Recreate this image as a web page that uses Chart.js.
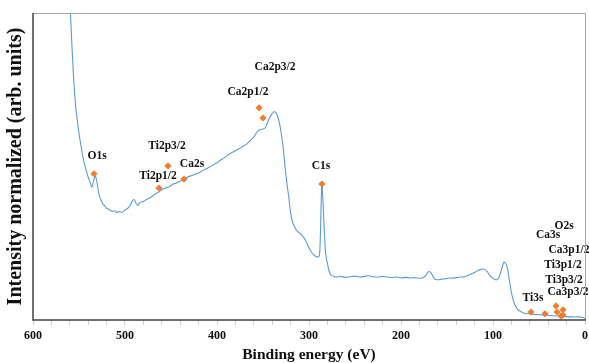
<!DOCTYPE html>
<html>
<head>
<meta charset="utf-8">
<script src="https://cdn.jsdelivr.net/npm/chart.js@4.4.1/dist/chart.umd.min.js"></script>
<style>
  html, body { margin: 0; padding: 0; background: #fff; }
  #wrap { width: 589px; height: 363px; position: relative; }
</style>
</head>
<body>
<div id="wrap"><canvas id="xps-chart"></canvas></div>
<script>
// survey spectrum (eV, arb. units 0-100)
const energies = [560, 557, 554, 551, 548, 545, 542, 540, 538, 536, 534, 532, 530, 528, 526, 524, 522, 520,
    517, 514, 511, 509, 506, 503, 500, 497, 494, 492, 490, 488, 486, 484, 480, 476, 472, 468, 464, 460,
    456, 452, 448, 444, 440, 436, 432, 428, 424, 420, 416, 412, 408, 404, 400, 396, 392, 388, 384, 380,
    376, 372, 368, 364, 360, 357, 354, 351, 348, 346, 344, 341, 338, 336, 334, 332, 330, 328, 326, 324,
    322, 320, 318, 316, 313, 310, 306, 303, 300, 297, 294, 291, 289, 288, 287, 286, 285, 284, 283, 282,
    280, 278, 276, 273, 270, 265, 260, 255, 250, 245, 240, 235, 230, 225, 220, 215, 210, 205, 200, 195,
    190, 185, 180, 176, 173, 171, 169, 167, 165, 163, 160, 156, 152, 148, 144, 140, 136, 132, 128, 124,
    120, 116, 113, 110, 107, 104, 101, 98, 96, 94, 92, 90, 88, 86, 84, 82, 80, 78, 76, 73, 70, 67, 60,
    50, 40, 30, 20, 10, 5, 2, 0];
const intensity = [105, 85, 71, 63, 57, 52, 48.5, 46.5, 45, 43.3, 45.5, 46.8, 44, 40.5, 39, 37.8, 37.2, 36.4,
    36.0, 35.4, 35.6, 35.0, 35.3, 35.1, 35.8, 36.4, 37.5, 38.8, 39.2, 38.0, 37.3, 38.2, 38.6, 39.4, 40.0, 40.9, 41.6, 42.4,
    43.0, 43.4, 44.2, 44.6, 45.3, 45.6, 46.6, 47.0, 47.5, 47.9, 48.6, 49.2, 49.8, 50.6, 51.2, 52.1, 52.8, 53.8, 54.5, 55.1,
    55.8, 56.6, 57.2, 58.4, 59.6, 61.0, 61.9, 62.1, 62.5, 63.6, 65.1, 66.8, 67.8, 67.6, 66.3, 64.0, 60.5, 56.0, 49.8, 44.5,
    40.0, 35.0, 32.0, 30.5, 29.0, 28.3, 27.0, 25.5, 23.5, 22.0, 21.0, 20.5, 20.8, 24, 35, 44.6, 40, 33, 27, 22,
    18.5, 15.8, 14.6, 14.2, 14.0, 14.2, 13.9, 14.1, 14.3, 14.0, 14.2, 14.4, 14.1, 14.0, 14.2, 14.0, 13.8, 14.0, 13.7, 13.9,
    13.7, 13.8, 13.6, 13.8, 14.5, 15.5, 15.8, 15.2, 14.0, 13.3, 13.1, 13.3, 13.4, 13.7, 13.6, 13.8, 14.0, 14.0, 14.4, 15.0,
    15.5, 16.2, 16.5, 16.6, 16.0, 14.8, 13.8, 13.2, 13.1, 13.6, 15.2, 17.3, 18.9, 18.3, 16.5, 12.5, 9.0, 6.5, 4.8, 3.4, 2.8, 2.3, 2.0,
    1.7, 1.5, 1.3, 1.1, 1.0, 1.0, 0.8, 0.5];

// peak markers and their labels
const peakNames = ['O1s', 'Ti2p1/2', 'Ti2p3/2', 'Ca2s', 'Ca2p1/2', 'Ca2p3/2', 'C1s',
    'Ti3s', 'Ca3s', 'O2s', 'Ca3p1/2', 'Ti3p1/2', 'Ti3p3/2', 'Ca3p3/2'];
const peakX = [533.7, 463, 453.3, 435.9, 354.3, 350, 285.9, 58.7, 43.5, 31.5, 30.4, 23.9, 26.1, 23.9];
const peakY = [47.6, 43.0, 50.2, 45.9, 69.1, 65.8, 44.3, 2.6, 2.0, 4.6, 2.6, 3.3, 1.3, 1.6];
const labelX = [530.4, 464.1, 454.3, 427.2, 366.3, 336.9, 286.9, 56.5, 40.2, 22.8, 17.4, 23.9, 22.8, 18.5];
const labelY = [53.4, 46.9, 56.7, 50.8, 74.3, 82.4, 50.2, 7.2, 27.7, 30.6, 22.8, 17.9, 13.0, 9.1];

const xTickLabels = [600, 500, 400, 300, 200, 100, 0];

const serif = '"Liberation Serif", "Times New Roman", serif';

const framePlugin = {
    id: 'frame',
    afterDraw(chart) {
        const { ctx, chartArea: a } = chart;
        ctx.save();
        ctx.strokeStyle = '#a6a6a6';
        ctx.lineWidth = 1;
        ctx.beginPath();
        ctx.moveTo(a.left, a.top + 0.5);
        ctx.lineTo(a.right + 0.5, a.top + 0.5);
        ctx.lineTo(a.right + 0.5, a.bottom);
        ctx.stroke();
        ctx.strokeStyle = '#404040';
        ctx.lineWidth = 1.5;
        ctx.beginPath();
        ctx.moveTo(a.left, a.top);
        ctx.lineTo(a.left, a.bottom);
        ctx.lineTo(a.right + 1, a.bottom);
        ctx.stroke();
        ctx.restore();
    }
};

const peakLabelPlugin = {
    id: 'peakLabels',
    afterDatasetsDraw(chart) {
        const { ctx, scales } = chart;
        ctx.save();
        ctx.font = 'bold 11.5px ' + serif;
        ctx.fillStyle = '#111';
        ctx.textAlign = 'center';
        ctx.textBaseline = 'middle';
        peakNames.forEach((name, i) => {
            ctx.fillText(name, scales.x.getPixelForValue(labelX[i]), scales.y.getPixelForValue(labelY[i]));
        });
        ctx.restore();
    }
};

const ctx = document.getElementById('xps-chart').getContext('2d');
new Chart(ctx, {
    type: 'scatter',
    data: {
        datasets: [{
            label: 'spectrum',
            data: energies.map((e, i) => ({ x: e, y: intensity[i] })),
            showLine: true,
            borderColor: '#5b9bd5',
            borderWidth: 1.1,
            pointRadius: 0,
            tension: 0.3,
            order: 2
        }, {
            label: 'peaks',
            data: peakX.map((e, i) => ({ x: e, y: peakY[i] })),
            showLine: false,
            pointStyle: 'rectRot',
            pointRadius: 3.6,
            backgroundColor: '#ed7d31',
            borderColor: '#ed7d31',
            borderWidth: 0,
            order: 1
        }]
    },
    options: {
        responsive: true,
        maintainAspectRatio: false,
        animation: false,
        layout: { padding: { top: 13, right: 2, left: 0, bottom: 0 } },
        plugins: { legend: { display: false }, tooltip: { enabled: false } },
        scales: {
            x: {
                type: 'linear',
                reverse: true,
                min: 0,
                max: 600,
                afterFit(scale) {
                    scale.height = 43;
                    scale.paddingLeft = 0;
                    scale.paddingRight = 0;
                },
                ticks: {
                    stepSize: 20,
                    autoSkip: false,
                    maxRotation: 0,
                    padding: 4,
                    color: '#111',
                    font: { family: serif, size: 12, weight: 'bold' },
                    callback: v => xTickLabels.includes(v) ? String(v) : ''
                },
                grid: { drawOnChartArea: false, color: '#d0d0d0', tickLength: 5 },
                border: { display: false },
                title: {
                    display: true,
                    text: 'Binding energy (eV)',
                    color: '#111',
                    padding: { top: 0, bottom: 0 },
                    font: { family: serif, size: 15.5, weight: 'bold', lineHeight: 1.0 }
                }
            },
            y: {
                min: 0,
                max: 100,
                afterFit(scale) { scale.width = 33; },
                ticks: { display: false },
                grid: { display: false },
                border: { display: false },
                title: {
                    display: true,
                    text: 'Intensity normalized (arb. units)',
                    color: '#111',
                    padding: { top: 4, bottom: 0 },
                    font: { family: serif, size: 20, weight: 'bold', lineHeight: 1.2 }
                }
            }
        }
    },
    plugins: [framePlugin, peakLabelPlugin]
});
</script>
</body>
</html>
